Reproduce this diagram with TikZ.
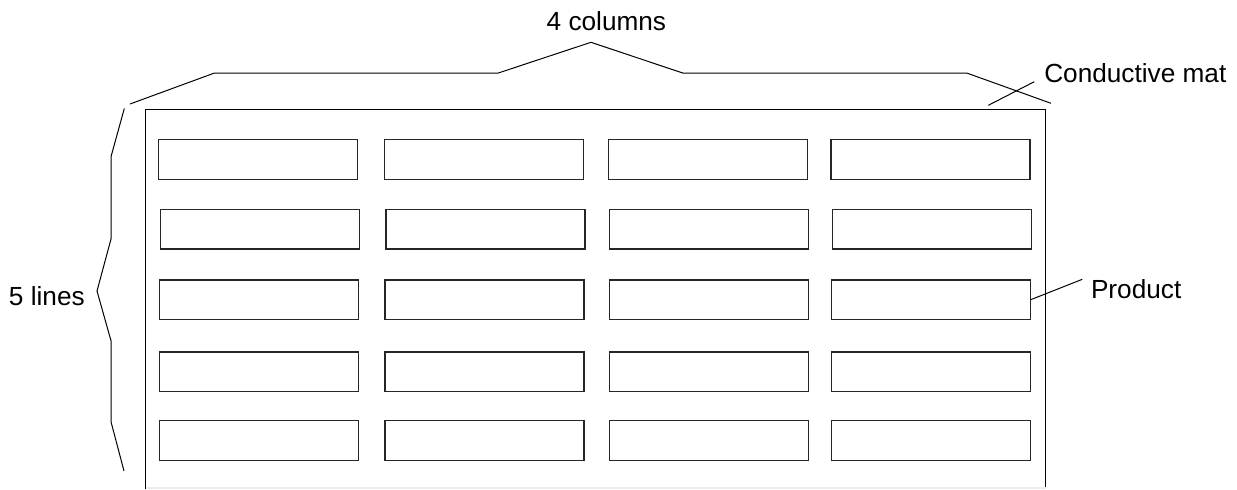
\documentclass[tikz,border=0pt]{standalone}
\usepackage{fontspec}
\setmainfont{Liberation Sans}
\begin{document}
\begin{tikzpicture}[x=0.5pt,y=-0.5pt,
  line width=0.55pt,
  prod/.style={draw=black!85,minimum width=99.5pt,minimum height=19.75pt,inner sep=0pt,outer sep=0pt},
  lbl/.style={inner sep=0pt,outer sep=0pt,anchor=base west,font=\fontsize{13.1}{15}\selectfont},
  thin/.style={line width=0.5pt}]
\useasboundingbox (0,0) rectangle (1237,489);
% mat
\coordinate (mtl) at (145.5,109.3);
\coordinate (mtr) at (1045.5,109.3);
\coordinate (mbl) at (145.5,489);
\coordinate (mbr) at (1045.5,489);
\draw (mbl) -- (mtl) -- (mtr) -- (mbr);
\draw[black!7] (145.5,488) -- (1045.5,488);
% products
\foreach \r/\y/\a/\b/\c/\d in {1/159.3/158.3/384.7/608.3/831,
                               2/229.2/160.3/386/609.7/832.5,
                               3/299.7/159.7/385/609.3/831.7,
                               4/371.7/159.7/385/609.3/831.7,
                               5/440.5/159.7/385/609.3/831.7}{
  \node[prod] (p\r-1) at (\a+99.5,\y) {};
  \node[prod] (p\r-2) at (\b+99.5,\y) {};
  \node[prod] (p\r-3) at (\c+99.5,\y) {};
  \node[prod] (p\r-4) at (\d+99.5,\y) {};
}
% top brace
\coordinate (t1) at (130,104);
\coordinate (t2) at (214.5,73);
\coordinate (t3) at (498.3,73);
\coordinate (t4) at (591,42.3);
\coordinate (t5) at (682.7,73);
\coordinate (t6) at (966.7,73);
\coordinate (t7) at (1051,103.3);
\draw[thin] (t1) -- (t2) -- (t3) -- (t4) -- (t5) -- (t6) -- (t7);
\node[lbl] (cols) at (546.7,30.7) {4 columns};
% left brace
\coordinate (l1) at (124.3,108.5);
\coordinate (l2) at (111,156.7);
\coordinate (l3) at (111,239);
\coordinate (l4) at (97,291);
\coordinate (l5) at (111,340.7);
\coordinate (l6) at (111,421.7);
\coordinate (l7) at (124,471);
\draw[thin] (l1) -- (l2) -- (l3) -- (l4) -- (l5) -- (l6) -- (l7);
\node[lbl] (lines) at (9,305) {5 lines};
% conductive mat label
\node[lbl] (cm) at (1044.3,82.3) {Conductive mat};
\coordinate (cm1) at (988.3,105.3);
\coordinate (cm2) at (1034.3,81.7);
\draw[thin] (cm1) -- (cm2);
% product label
\node[lbl] (prodlbl) at (1091,298.3) {Product};
\coordinate (pr2) at (1082.3,279.3);
\draw[thin] (p3-4.east) -- (pr2);
\end{tikzpicture}
\end{document}
